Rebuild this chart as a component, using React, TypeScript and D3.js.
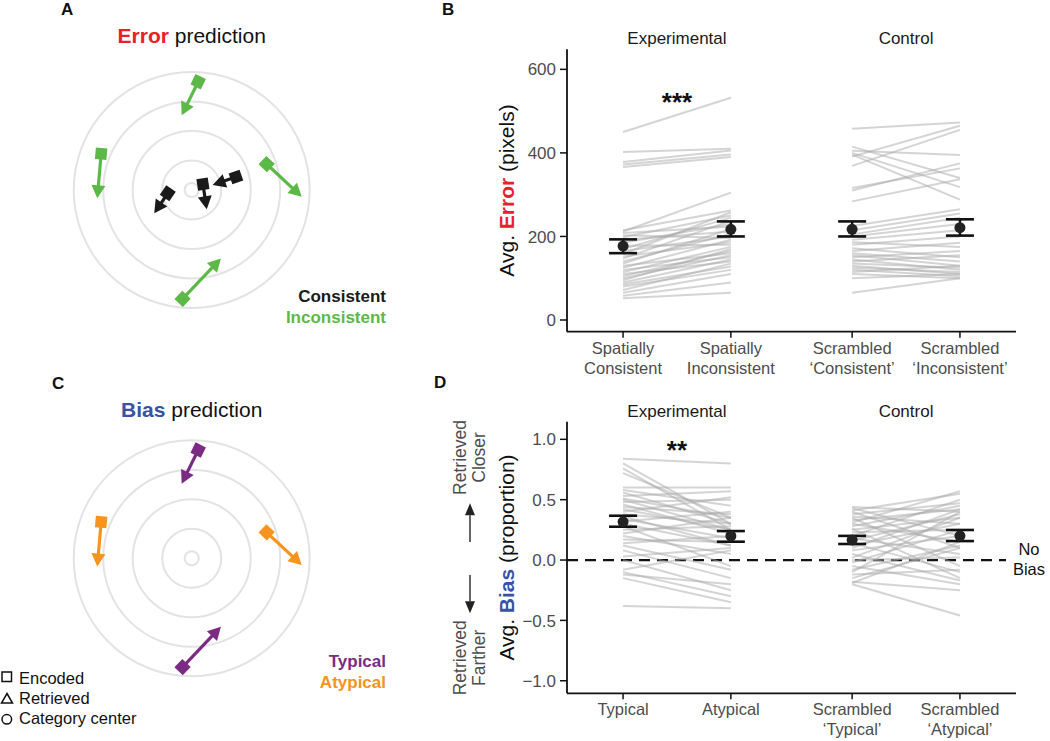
import React from 'react';
import * as d3 from 'd3';

const FONT = '"Liberation Sans", Arial, Helvetica, sans-serif';

// ---------- Schematic panels (A, C) ----------
const ringRadii = [0.24, 1, 2, 3, 4];

const errorLegend = ['Consistent', 'Inconsistent'];
const errorLegendColors = ['#1a1a1a', '#5cb947'];
const errorArrowGroup = ['Inconsistent', 'Inconsistent', 'Inconsistent', 'Inconsistent', 'Consistent', 'Consistent', 'Consistent'];
const errorEncX = [0.22, -3.07, 2.54, -0.31, 1.5, 0.38, -0.81];
const errorEncY = [3.67, 1.23, 0.88, -3.69, 0.44, 0.2, -0.11];
const errorRetX = [-0.34, -3.2, 3.73, 0.99, 0.71, 0.51, -1.27];
const errorRetY = [2.53, -0.28, -0.23, -2.32, 0.17, -0.65, -0.79];

const biasLegend = ['Typical', 'Atypical'];
const biasLegendColors = ['#7b2b83', '#f7941d'];
const biasArrowGroup = ['Typical', 'Atypical', 'Atypical', 'Typical'];
const biasEncX = [0.22, -3.07, 2.54, -0.31];
const biasEncY = [3.67, 1.23, 0.88, -3.69];
const biasRetX = [-0.34, -3.2, 3.73, 0.99];
const biasRetY = [2.53, -0.28, -0.23, -2.32];

const shapeLegend = ['Encoded', 'Retrieved', 'Category center'];

// ---------- Paired plots (B, D) ----------
const facets = ['Experimental', 'Control'];
const conditionsB = ['SC', 'SI', 'ScrC', 'ScrI'];
const xLabelsB = [['Spatially', 'Consistent'], ['Spatially', 'Inconsistent'], ['Scrambled', '\u2018Consistent\u2019'], ['Scrambled', '\u2018Inconsistent\u2019']];
const xLabelsD = [['Typical'], ['Atypical'], ['Scrambled', '\u2018Typical\u2019'], ['Scrambled', '\u2018Atypical\u2019']];
const ticksB = [0, 200, 400, 600];
const ticksD = [-1, -0.5, 0, 0.5, 1];

const errExpSC = [450, 402, 378, 372, 366, 215, 212, 208, 203, 198, 192, 185, 178, 170, 165, 158, 152, 147, 140, 135, 130, 125, 120, 115, 110, 105, 100, 95, 90, 85, 80, 72, 65, 58, 52];
const errExpSI = [532, 410, 406, 396, 390, 262, 305, 224, 196, 250, 212, 230, 180, 245, 200, 258, 186, 238, 206, 218, 160, 192, 150, 175, 140, 165, 155, 170, 145, 128, 120, 135, 110, 90, 65];
const errCtlSC = [458, 415, 405, 400, 396, 391, 369, 316, 310, 284, 225, 215, 205, 200, 192, 186, 180, 172, 165, 160, 155, 150, 145, 140, 135, 130, 125, 120, 115, 110, 100, 65];
const errCtlSI = [473, 340, 395, 318, 288, 465, 455, 363, 375, 337, 265, 255, 245, 230, 215, 175, 200, 150, 185, 140, 130, 165, 120, 155, 125, 110, 115, 105, 130, 100, 110, 100];
const errMean = [177, 217, 217, 221];
const errLo = [160, 200, 200, 202];
const errHi = [193, 236, 236, 241];

const biasExpT = [0.84, 0.8, 0.76, 0.72, 0.6, 0.58, 0.56, 0.53, 0.51, 0.5, 0.48, 0.46, 0.44, 0.42, 0.4, 0.38, 0.36, 0.34, 0.32, 0.3, 0.28, 0.25, 0.22, 0.2, 0.17, 0.14, 0.12, 0.08, 0.03, 0.0, -0.08, -0.1, -0.12, -0.15, -0.38];
const biasExpA = [0.8, 0.3, 0.25, 0.35, 0.6, 0.45, 0.3, 0.57, 0.35, 0.25, 0.5, 0.22, 0.38, 0.25, 0.52, 0.3, 0.12, 0.18, 0.4, 0.12, -0.05, 0.28, 0.35, 0.05, 0.15, 0.2, -0.08, -0.15, 0.1, -0.25, 0.08, -0.3, -0.2, -0.35, -0.4];
const biasCtlT = [0.44, 0.43, 0.41, 0.4, 0.38, 0.36, 0.35, 0.33, 0.31, 0.3, 0.28, 0.26, 0.25, 0.23, 0.2, 0.18, 0.16, 0.14, 0.12, 0.1, 0.08, 0.05, 0.02, 0.0, -0.02, -0.05, -0.08, -0.1, -0.12, -0.15, -0.18, -0.19, -0.2];
const biasCtlA = [0.4, 0.2, 0.55, 0.1, 0.47, 0.3, -0.05, 0.42, 0.57, 0.15, 0.45, -0.15, 0.35, 0.25, 0.5, 0.05, 0.38, -0.1, 0.3, 0.42, 0.2, -0.17, 0.35, 0.02, 0.25, -0.2, 0.12, 0.4, -0.08, 0.1, -0.25, 0.15, -0.46];
const biasMean = [0.317, 0.199, 0.166, 0.201];
const biasLo = [0.276, 0.152, 0.133, 0.157];
const biasHi = [0.367, 0.24, 0.2, 0.249];

// ---------- helpers ----------
type ArrowProps = { x0: number; y0: number; x1: number; y1: number; color: string };
function Arrow({ x0, y0, x1, y1, color }: ArrowProps) {
  const dx = x1 - x0, dy = y1 - y0;
  const len = Math.hypot(dx, dy);
  const ux = dx / len, uy = dy / len;
  const nx = -uy, ny = ux;
  const h = 13, w = 14, s = 11.5;
  const bx = x1 - ux * h, by = y1 - uy * h;
  const ang = (Math.atan2(dy, dx) * 180) / Math.PI;
  return (
    <g>
      <line x1={x0} y1={y0} x2={bx + ux * 1} y2={by + uy * 1} stroke={color} strokeWidth={3.2} />
      <polygon points={`${x1},${y1} ${bx + nx * w / 2},${by + ny * w / 2} ${bx - nx * w / 2},${by - ny * w / 2}`} fill={color} />
      <rect x={-s / 2} y={-s / 2} width={s} height={s} fill={color} transform={`translate(${x0},${y0}) rotate(${ang})`} />
    </g>
  );
}

type SchematicProps = {
  cx: number; cy: number; titleY: number; word: string; wordColor: string;
  encX: number[]; encY: number[]; retX: number[]; retY: number[]; groups: string[];
  legend: string[]; legendColors: string[]; legendY: number;
};
function Schematic(p: SchematicProps) {
  const R = 118;
  const sx = d3.scaleLinear().domain([-4, 4]).range([p.cx - R, p.cx + R]);
  const sy = d3.scaleLinear().domain([-4, 4]).range([p.cy + R, p.cy - R]);
  const color = d3.scaleOrdinal<string, string>().domain(p.legend).range(p.legendColors);
  return (
    <g>
      <text x={p.cx} y={p.titleY} textAnchor="middle" fontSize={21} fontFamily={FONT} fill="#111">
        <tspan fontWeight="bold" fill={p.wordColor}>{p.word}</tspan>
        <tspan> prediction</tspan>
      </text>
      {ringRadii.map((r, i) => (
        <circle key={i} cx={p.cx} cy={p.cy} r={sx(r) - sx(0)} fill="none" stroke="#e3e3e3" strokeWidth={2} />
      ))}
      {p.encX.map((_, i) => (
        <Arrow key={i} x0={sx(p.encX[i])} y0={sy(p.encY[i])} x1={sx(p.retX[i])} y1={sy(p.retY[i])} color={color(p.groups[i])} />
      ))}
      {p.legend.map((g, i) => (
        <text key={g} x={386} y={p.legendY + i * 21} textAnchor="end" fontSize={17} fontWeight="bold" fontFamily={FONT} fill={color(g)}>{g}</text>
      ))}
    </g>
  );
}

type PairedProps = {
  top: number; bottom: number; domain: [number, number]; ticks: number[]; fmt: (v: number) => string;
  left: number[][]; right: number[][]; mean: number[]; lo: number[]; hi: number[];
  xLabels: string[][]; title: React.ReactNode; titleX: number; sig: string; sigValue: number;
  zeroLine?: boolean; children?: (y: d3.ScaleLinear<number, number>) => React.ReactNode;
};
function Paired(p: PairedProps) {
  const x0 = 567, x1 = 1016;
  const y = d3.scaleLinear().domain(p.domain).range([p.bottom, p.top]);
  const facet = d3.scaleBand<string>().domain(facets).range([x0, x1]).paddingInner(0.04);
  const pos = (i: number) => {
    const fi = Math.floor(i / 2);
    const f = facets[fi];
    const pt = d3.scalePoint<string>().domain(conditionsB.slice(fi * 2, fi * 2 + 2))
      .range([facet(f)!, facet(f)! + facet.bandwidth()]).padding(0.52);
    return pt(conditionsB[i])!;
  };
  const lineColor = 'rgba(170,170,170,0.5)';
  return (
    <g fontFamily={FONT}>
      {facets.map(f => (
        <text key={f} x={facet(f)! + facet.bandwidth() / 2} y={p.top - 5} textAnchor="middle" fontSize={17} fill="#1a1a1a">{f}</text>
      ))}
      {p.zeroLine && (
        <line x1={x0} x2={1006} y1={y(0)} y2={y(0)} stroke="#111" strokeWidth={2.2} strokeDasharray="11 7" />
      )}
      {[0, 1].map(f => p.left[f].map((v, k) => (
        <line key={`${f}-${k}`} x1={pos(f * 2)} x2={pos(f * 2 + 1)} y1={y(v)} y2={y(p.right[f][k])} stroke={lineColor} strokeWidth={2} />
      )))}
      {p.mean.map((m, i) => (
        <g key={i}>
          <line x1={pos(i)} x2={pos(i)} y1={y(p.lo[i])} y2={y(p.hi[i])} stroke="#111" strokeWidth={2.4} />
          <line x1={pos(i) - 14} x2={pos(i) + 14} y1={y(p.lo[i])} y2={y(p.lo[i])} stroke="#111" strokeWidth={2.6} />
          <line x1={pos(i) - 14} x2={pos(i) + 14} y1={y(p.hi[i])} y2={y(p.hi[i])} stroke="#111" strokeWidth={2.6} />
          <circle cx={pos(i)} cy={y(m)} r={5.5} fill="#222" />
        </g>
      ))}
      <text x={(pos(0) + pos(1)) / 2} y={y(p.sigValue)} textAnchor="middle" fontSize={26} fontWeight="bold" fill="#111">{p.sig}</text>
      {/* axes */}
      <line x1={x0} x2={x0} y1={p.top} y2={p.bottom} stroke="#111" strokeWidth={1.8} />
      <line x1={x0} x2={x1} y1={p.bottom} y2={p.bottom} stroke="#111" strokeWidth={1.8} />
      {p.ticks.map(t => (
        <g key={t}>
          <line x1={x0 - 7} x2={x0} y1={y(t)} y2={y(t)} stroke="#111" strokeWidth={1.5} />
          <text x={x0 - 11} y={y(t)} dy="0.36em" textAnchor="end" fontSize={17} fill="#4d4d4d">{p.fmt(t)}</text>
        </g>
      ))}
      {p.xLabels.map((lab, i) => (
        <g key={i}>
          <line x1={pos(i)} x2={pos(i)} y1={p.bottom} y2={p.bottom + 6} stroke="#111" strokeWidth={1.5} />
          {lab.map((s, j) => (
            <text key={j} x={pos(i)} y={p.bottom + 22 + j * 20} textAnchor="middle" fontSize={16.5} fill="#4d4d4d">{s}</text>
          ))}
        </g>
      ))}
      <text transform={`translate(${p.titleX},${(p.top + p.bottom) / 2}) rotate(-90)`} textAnchor="middle" fontSize={21} fill="#111">{p.title}</text>
      {p.children && p.children(y)}
    </g>
  );
}

function VArrow({ x, yFrom, yTo }: { x: number; yFrom: number; yTo: number }) {
  const dir = Math.sign(yTo - yFrom);
  const h = 12, w = 10;
  return (
    <g>
      <line x1={x} x2={x} y1={yFrom} y2={yTo - dir * h} stroke="#333" strokeWidth={1.5} />
      <polygon points={`${x},${yTo} ${x - w / 2},${yTo - dir * h} ${x + w / 2},${yTo - dir * h}`} fill="#222" />
    </g>
  );
}

export default function App() {
  const fmtB = d3.format('d');
  const fmtD = d3.format('.1f');
  return (
    <svg width={1050} height={741} style={{ position: 'absolute', left: 0, top: 0, background: '#fff' }}>
      <rect width={1050} height={741} fill="#fff" />
      {/* panel letters */}
      <g fontFamily={FONT} fontWeight="bold" fontSize={17} fill="#111">
        <text x={61} y={15}>A</text>
        <text x={442} y={15}>B</text>
        <text x={52} y={389}>C</text>
        <text x={434} y={388}>D</text>
      </g>

      <Schematic cx={191.7} cy={190} titleY={43} word="Error" wordColor="#e8202a"
        encX={errorEncX} encY={errorEncY} retX={errorRetX} retY={errorRetY} groups={errorArrowGroup}
        legend={errorLegend} legendColors={errorLegendColors} legendY={302} />
      <Schematic cx={191.7} cy={558.3} titleY={417} word="Bias" wordColor="#3953a4"
        encX={biasEncX} encY={biasEncY} retX={biasRetX} retY={biasRetY} groups={biasArrowGroup}
        legend={biasLegend} legendColors={biasLegendColors} legendY={667} />

      {/* shape legend */}
      <g fontFamily={FONT} fontSize={16.5} fill="#111">
        {shapeLegend.map((s, i) => (
          <text key={s} x={19} y={683.5 + i * 20.4}>{s}</text>
        ))}
        <rect x={2} y={672} width={9.5} height={9.5} fill="none" stroke="#111" strokeWidth={1.5} />
        <polygon points="7,693.5 12.5,703 1.5,703" fill="none" stroke="#111" strokeWidth={1.5} />
        <circle cx={6.8} cy={719.3} r={4.8} fill="none" stroke="#111" strokeWidth={1.5} />
      </g>

      <Paired top={49.3} bottom={331.7} domain={[-28, 648]} ticks={ticksB} fmt={fmtB}
        left={[errExpSC, errCtlSC]} right={[errExpSI, errCtlSI]} mean={errMean} lo={errLo} hi={errHi}
        xLabels={xLabelsB} titleX={513.5} sig="***" sigValue={500}
        title={<><tspan>Avg. </tspan><tspan fontWeight="bold" fill="#e8202a">Error</tspan><tspan> (pixels)</tspan></>} />

      <Paired top={421.7} bottom={693.3} domain={[-1.104, 1.146]} ticks={ticksD} fmt={fmtD}
        left={[biasExpT, biasCtlT]} right={[biasExpA, biasCtlA]} mean={biasMean} lo={biasLo} hi={biasHi}
        xLabels={xLabelsD} titleX={513.5} sig="**" sigValue={0.84} zeroLine
        title={<><tspan>Avg. </tspan><tspan fontWeight="bold" fill="#3953a4">Bias</tspan><tspan> (proportion)</tspan></>}>
        {(y) => (
          <g fontSize={17.5} fill="#4d4d4d" fontFamily={FONT}>
            <text transform={`translate(466,${y(0.85)}) rotate(-90)`} textAnchor="middle">Retrieved</text>
            <text transform={`translate(485,${y(0.85)}) rotate(-90)`} textAnchor="middle">Closer</text>
            <text transform={`translate(466,${y(-0.81)}) rotate(-90)`} textAnchor="middle">Retrieved</text>
            <text transform={`translate(485,${y(-0.81)}) rotate(-90)`} textAnchor="middle">Farther</text>
            <VArrow x={470} yFrom={y(0.15)} yTo={y(0.47)} />
            <VArrow x={470} yFrom={y(-0.124)} yTo={y(-0.44)} />
            <text x={1029} y={555} textAnchor="middle" fill="#111" fontSize={16.5}>No</text>
            <text x={1029} y={575} textAnchor="middle" fill="#111" fontSize={16.5}>Bias</text>
          </g>
        )}
      </Paired>
    </svg>
  );
}
